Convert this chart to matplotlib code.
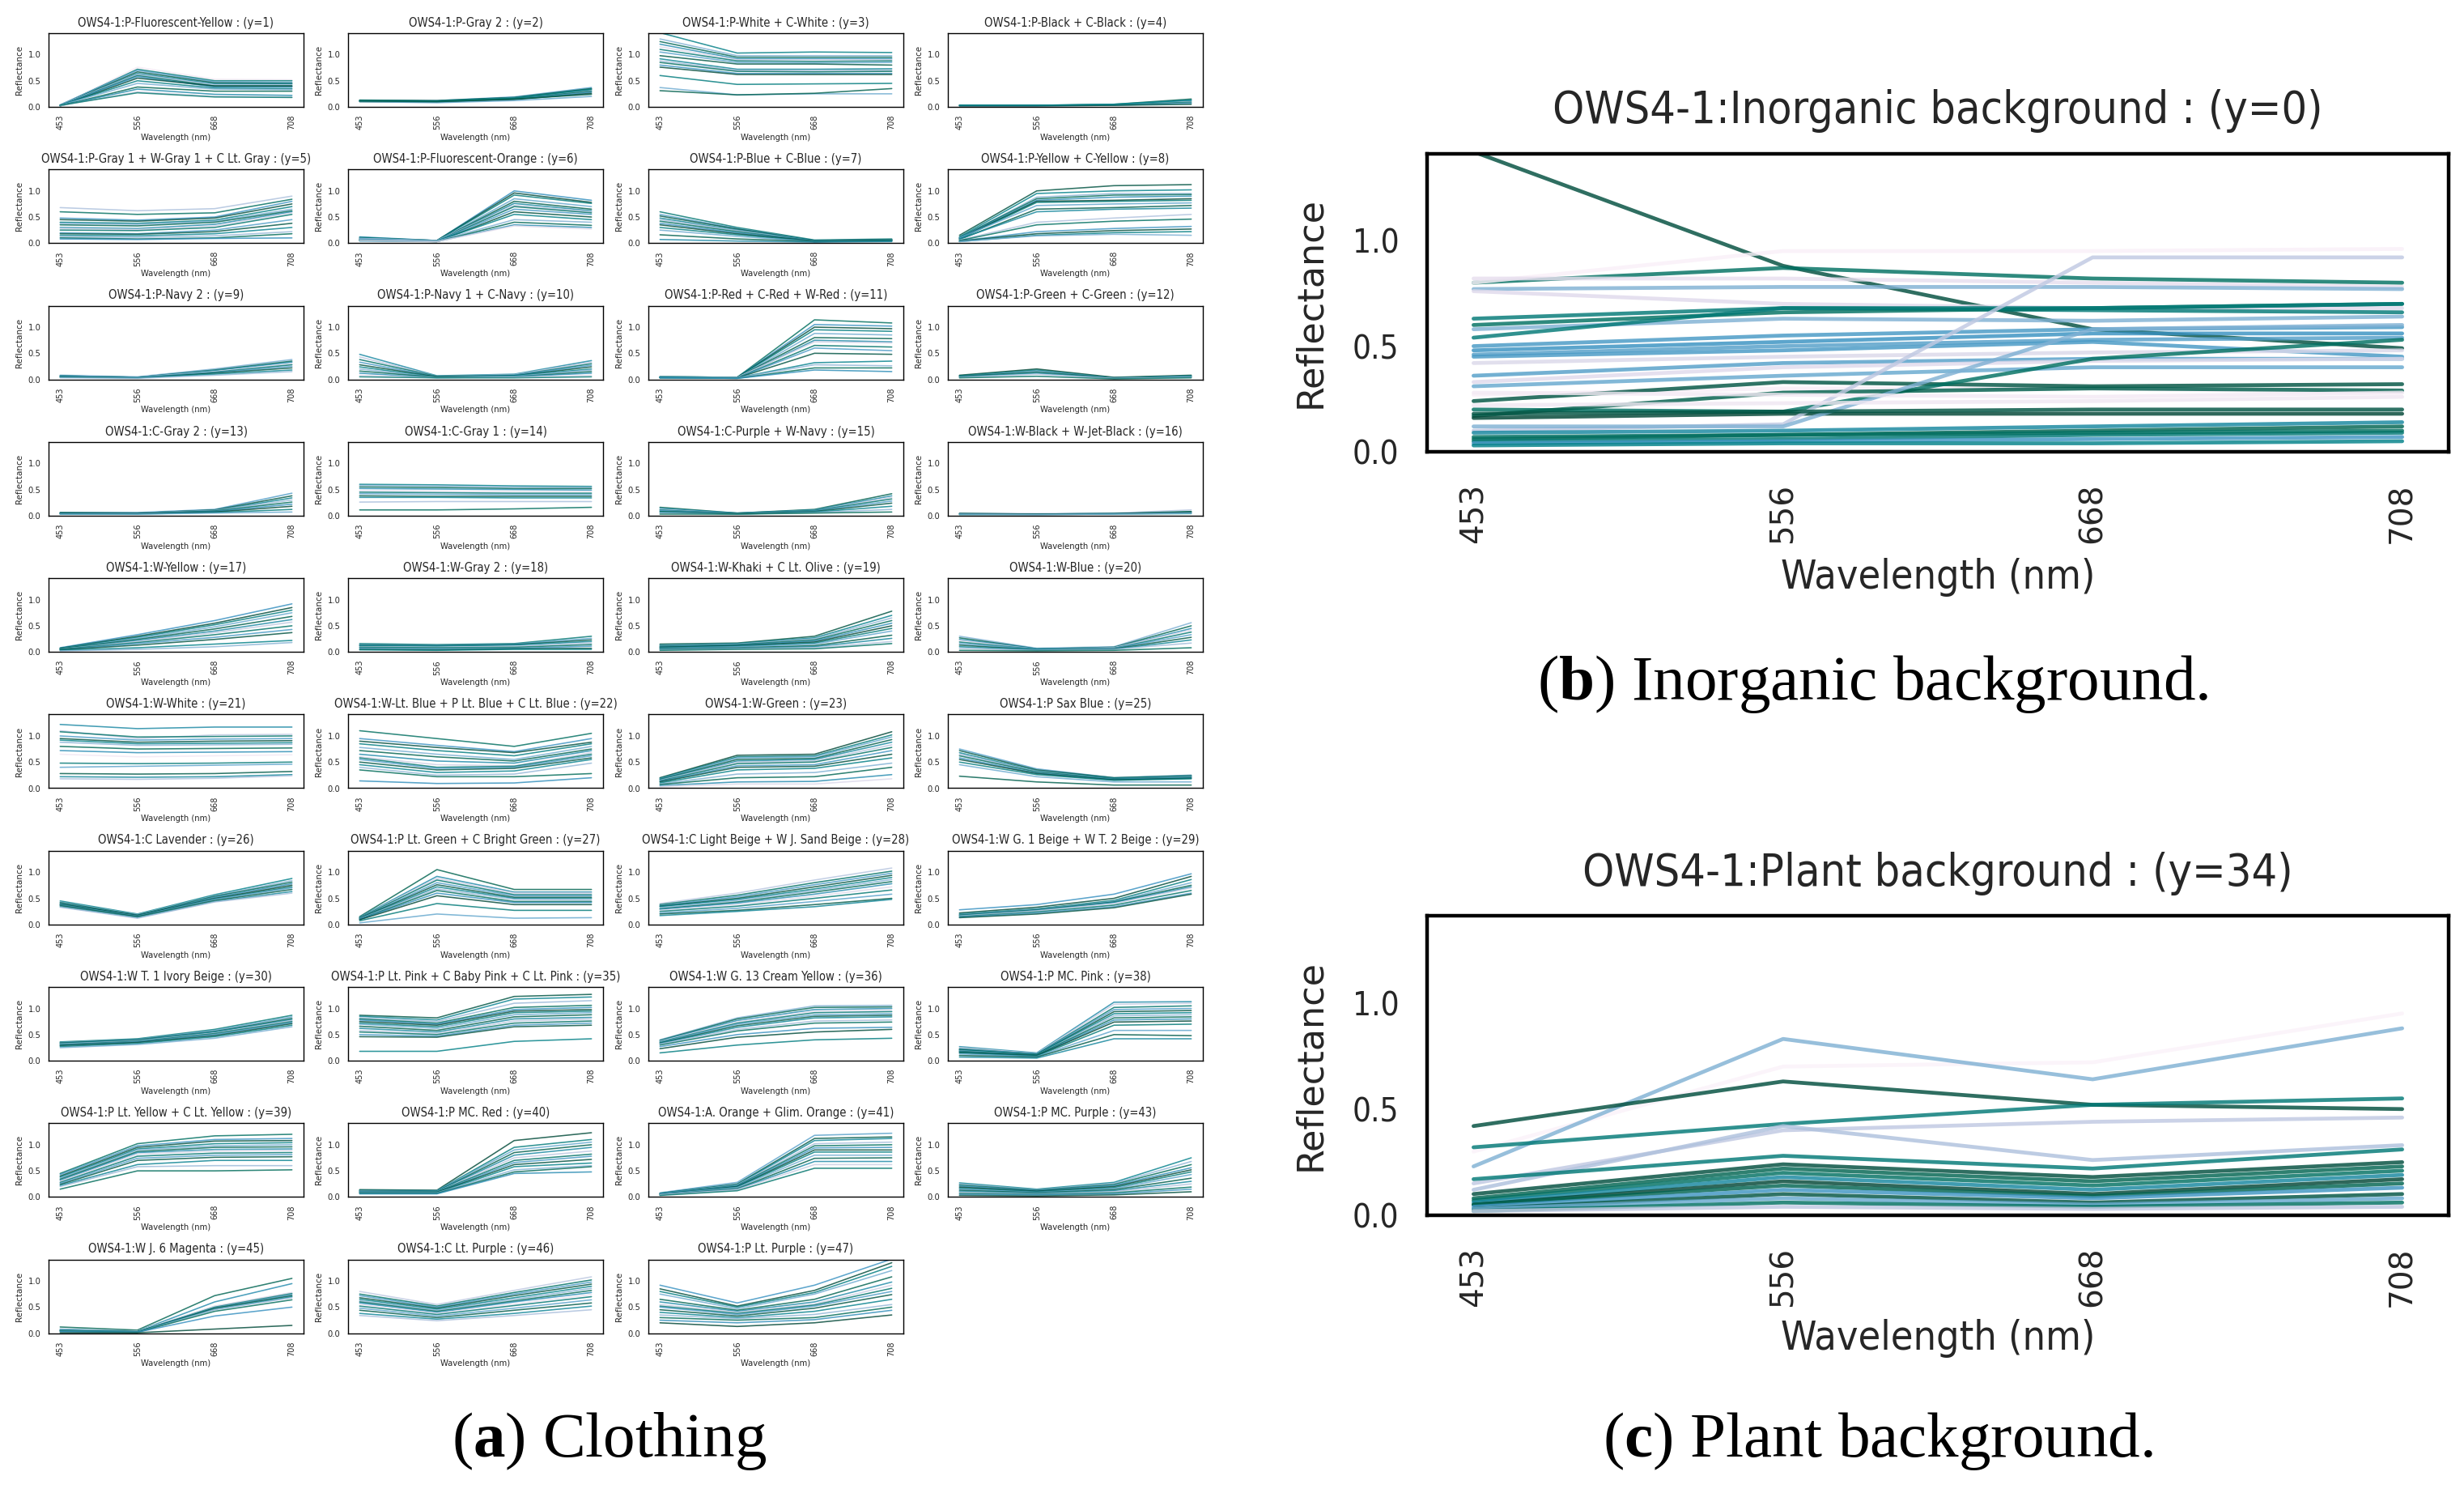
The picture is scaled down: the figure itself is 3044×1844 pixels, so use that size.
import matplotlib
matplotlib.use("Agg")
import matplotlib.pyplot as plt
from matplotlib import font_manager as fm
from matplotlib.font_manager import FontProperties
import numpy as np

# ---------------- data ----------------
wavelengths = ["453", "556", "668", "708"]

s01 = [[0.03,0.76,0.53,0.52],[0.03,0.72,0.50,0.50],[0.04,0.70,0.48,0.47],[0.03,0.67,0.46,0.45],[0.03,0.64,0.44,0.44],[0.04,0.62,0.42,0.42],[0.03,0.60,0.40,0.40],[0.03,0.58,0.38,0.38],[0.02,0.55,0.40,0.40],[0.03,0.50,0.36,0.35],[0.03,0.45,0.34,0.33],[0.02,0.38,0.30,0.30],[0.02,0.34,0.24,0.22],[0.02,0.29,0.20,0.19],[0.03,0.27,0.19,0.18]]
s02 = [[0.12,0.12,0.19,0.37],[0.13,0.12,0.18,0.35],[0.12,0.11,0.17,0.33],[0.11,0.10,0.17,0.31],[0.12,0.11,0.16,0.30],[0.11,0.10,0.15,0.28],[0.10,0.09,0.14,0.26],[0.12,0.11,0.17,0.34],[0.10,0.08,0.12,0.20],[0.11,0.10,0.15,0.24]]
s03 = [[1.42,1.03,1.05,1.04],[1.30,0.98,0.98,0.98],[1.25,0.95,0.95,0.95],[1.20,0.92,0.92,0.92],[1.15,0.90,0.90,0.90],[1.10,0.88,0.87,0.88],[1.05,0.85,0.84,0.85],[0.98,0.82,0.82,0.80],[0.92,0.72,0.72,0.73],[0.88,0.70,0.70,0.70],[0.85,0.68,0.67,0.68],[0.80,0.64,0.64,0.64],[0.76,0.62,0.62,0.62],[0.60,0.43,0.44,0.45],[0.37,0.23,0.25,0.25],[0.31,0.23,0.26,0.35]]
s04 = [[0.03,0.03,0.05,0.15],[0.03,0.03,0.04,0.12],[0.02,0.02,0.04,0.10],[0.03,0.03,0.04,0.09],[0.02,0.02,0.03,0.07],[0.02,0.02,0.03,0.05],[0.03,0.03,0.05,0.13]]
s05 = [[0.68,0.62,0.66,0.90],[0.60,0.55,0.58,0.84],[0.48,0.44,0.50,0.80],[0.45,0.42,0.48,0.75],[0.40,0.38,0.44,0.70],[0.38,0.36,0.42,0.65],[0.35,0.33,0.40,0.62],[0.30,0.28,0.36,0.60],[0.28,0.26,0.33,0.58],[0.25,0.24,0.30,0.55],[0.20,0.18,0.25,0.45],[0.18,0.17,0.22,0.38],[0.15,0.14,0.18,0.30],[0.12,0.11,0.14,0.22],[0.10,0.08,0.10,0.18],[0.08,0.07,0.09,0.10]]
s06 = [[0.12,0.05,1.00,0.82],[0.10,0.05,0.96,0.78],[0.11,0.05,0.92,0.76],[0.09,0.04,0.85,0.70],[0.08,0.04,0.80,0.65],[0.07,0.04,0.76,0.62],[0.09,0.05,0.72,0.60],[0.06,0.04,0.70,0.58],[0.08,0.04,0.65,0.55],[0.06,0.03,0.60,0.50],[0.05,0.04,0.55,0.45],[0.07,0.04,0.45,0.40],[0.05,0.03,0.40,0.34],[0.04,0.03,0.35,0.30],[0.05,0.03,0.33,0.27]]
s07 = [[0.60,0.30,0.06,0.08],[0.55,0.28,0.05,0.07],[0.52,0.27,0.05,0.07],[0.48,0.25,0.05,0.06],[0.45,0.24,0.04,0.06],[0.42,0.22,0.04,0.06],[0.38,0.20,0.04,0.05],[0.35,0.18,0.04,0.05],[0.30,0.16,0.03,0.05],[0.25,0.13,0.03,0.04],[0.16,0.08,0.03,0.04],[0.07,0.04,0.02,0.03]]
s08 = [[0.15,1.00,1.10,1.12],[0.12,0.95,1.00,1.02],[0.10,0.88,0.95,0.95],[0.11,0.85,0.92,0.93],[0.10,0.82,0.88,0.90],[0.09,0.80,0.82,0.85],[0.08,0.78,0.80,0.82],[0.10,0.72,0.75,0.77],[0.07,0.65,0.68,0.72],[0.08,0.60,0.65,0.67],[0.06,0.40,0.48,0.55],[0.05,0.35,0.42,0.46],[0.04,0.22,0.28,0.32],[0.04,0.18,0.24,0.27],[0.03,0.15,0.20,0.22],[0.03,0.14,0.17,0.15]]
s09 = [[0.08,0.05,0.20,0.38],[0.07,0.04,0.18,0.35],[0.07,0.04,0.17,0.33],[0.06,0.04,0.15,0.30],[0.05,0.03,0.14,0.28],[0.06,0.04,0.13,0.25],[0.05,0.03,0.12,0.22],[0.04,0.03,0.10,0.18],[0.03,0.02,0.08,0.15]]
s10 = [[0.48,0.07,0.10,0.36],[0.43,0.06,0.09,0.33],[0.38,0.06,0.08,0.30],[0.33,0.05,0.08,0.27],[0.28,0.05,0.07,0.24],[0.24,0.04,0.07,0.20],[0.20,0.04,0.06,0.18],[0.16,0.04,0.05,0.15],[0.12,0.03,0.05,0.12],[0.08,0.03,0.04,0.08],[0.05,0.03,0.03,0.05]]
s11 = [[0.05,0.04,1.14,1.08],[0.05,0.04,1.05,1.02],[0.04,0.04,1.00,0.97],[0.05,0.04,0.95,0.92],[0.04,0.03,0.88,0.85],[0.05,0.04,0.80,0.78],[0.04,0.03,0.75,0.72],[0.05,0.04,0.72,0.70],[0.04,0.03,0.65,0.62],[0.04,0.03,0.60,0.55],[0.03,0.03,0.50,0.48],[0.04,0.03,0.32,0.35],[0.03,0.03,0.28,0.26],[0.03,0.02,0.22,0.22],[0.03,0.02,0.18,0.15]]
s12 = [[0.08,0.20,0.04,0.08],[0.07,0.18,0.03,0.07],[0.06,0.16,0.03,0.06],[0.06,0.14,0.03,0.05],[0.05,0.12,0.02,0.05],[0.04,0.10,0.02,0.04],[0.03,0.06,0.01,0.03]]
s13 = [[0.06,0.06,0.12,0.43],[0.06,0.05,0.11,0.38],[0.05,0.05,0.10,0.34],[0.05,0.05,0.10,0.30],[0.05,0.04,0.09,0.26],[0.04,0.04,0.08,0.22],[0.04,0.04,0.07,0.18],[0.03,0.03,0.06,0.12],[0.03,0.03,0.05,0.07]]
s14 = [[0.60,0.59,0.57,0.56],[0.58,0.57,0.55,0.54],[0.55,0.54,0.52,0.52],[0.52,0.51,0.50,0.49],[0.48,0.47,0.46,0.46],[0.45,0.44,0.43,0.43],[0.42,0.41,0.40,0.40],[0.38,0.37,0.37,0.37],[0.35,0.35,0.34,0.34],[0.26,0.27,0.27,0.27],[0.11,0.11,0.13,0.16]]
s15 = [[0.16,0.05,0.12,0.42],[0.14,0.05,0.11,0.38],[0.12,0.04,0.10,0.35],[0.11,0.04,0.10,0.32],[0.10,0.04,0.09,0.28],[0.08,0.04,0.08,0.24],[0.07,0.03,0.07,0.18],[0.05,0.03,0.06,0.12],[0.03,0.03,0.05,0.07]]
s16 = [[0.05,0.04,0.05,0.11],[0.04,0.03,0.04,0.08],[0.03,0.03,0.04,0.06],[0.04,0.03,0.04,0.07],[0.02,0.02,0.03,0.04],[0.03,0.02,0.03,0.05]]
s17 = [[0.08,0.33,0.60,0.92],[0.07,0.30,0.55,0.85],[0.07,0.28,0.52,0.80],[0.06,0.26,0.48,0.75],[0.06,0.24,0.44,0.68],[0.05,0.22,0.40,0.62],[0.05,0.20,0.37,0.57],[0.05,0.18,0.33,0.50],[0.04,0.16,0.28,0.43],[0.04,0.13,0.24,0.37],[0.03,0.08,0.15,0.22],[0.02,0.05,0.10,0.18]]
s18 = [[0.16,0.14,0.16,0.30],[0.14,0.13,0.15,0.26],[0.13,0.12,0.14,0.23],[0.12,0.11,0.13,0.20],[0.10,0.09,0.11,0.17],[0.09,0.08,0.09,0.14],[0.07,0.06,0.07,0.11],[0.05,0.04,0.06,0.07],[0.04,0.03,0.05,0.05]]
s19 = [[0.15,0.17,0.30,0.78],[0.13,0.16,0.27,0.70],[0.12,0.15,0.25,0.65],[0.11,0.14,0.23,0.60],[0.10,0.13,0.21,0.55],[0.09,0.12,0.19,0.50],[0.08,0.11,0.17,0.45],[0.07,0.10,0.15,0.40],[0.06,0.08,0.12,0.32],[0.05,0.07,0.10,0.26],[0.04,0.06,0.08,0.20],[0.03,0.05,0.06,0.16]]
s20 = [[0.30,0.07,0.10,0.56],[0.27,0.06,0.09,0.50],[0.24,0.06,0.08,0.45],[0.22,0.05,0.08,0.42],[0.19,0.05,0.07,0.38],[0.16,0.05,0.07,0.33],[0.13,0.04,0.06,0.28],[0.10,0.04,0.05,0.23],[0.07,0.03,0.05,0.17],[0.03,0.02,0.03,0.08]]
s21 = [[1.22,1.14,1.17,1.17],[1.10,0.95,1.02,1.03],[1.08,0.98,0.99,1.00],[1.00,0.92,0.94,0.95],[0.95,0.88,0.90,0.91],[0.92,0.85,0.86,0.87],[0.88,0.82,0.83,0.84],[0.80,0.75,0.76,0.77],[0.72,0.68,0.69,0.70],[0.65,0.60,0.62,0.64],[0.48,0.47,0.48,0.50],[0.40,0.42,0.44,0.46],[0.28,0.27,0.28,0.32],[0.22,0.21,0.22,0.26],[0.18,0.17,0.19,0.24]]
s22 = [[1.10,0.95,0.80,1.05],[0.95,0.82,0.70,0.95],[0.90,0.78,0.68,0.88],[0.85,0.72,0.62,0.85],[0.78,0.65,0.55,0.80],[0.72,0.60,0.52,0.75],[0.65,0.52,0.48,0.72],[0.60,0.45,0.43,0.68],[0.58,0.40,0.42,0.65],[0.55,0.38,0.40,0.62],[0.50,0.35,0.38,0.58],[0.45,0.30,0.33,0.55],[0.40,0.25,0.27,0.48],[0.35,0.22,0.22,0.28],[0.14,0.09,0.10,0.20]]
s23 = [[0.20,0.63,0.65,1.08],[0.19,0.60,0.62,1.02],[0.18,0.58,0.60,0.98],[0.17,0.55,0.57,0.93],[0.16,0.52,0.55,0.88],[0.15,0.50,0.52,0.83],[0.14,0.47,0.50,0.78],[0.13,0.43,0.45,0.72],[0.12,0.40,0.42,0.65],[0.10,0.35,0.38,0.58],[0.08,0.27,0.30,0.48],[0.07,0.20,0.22,0.40],[0.05,0.12,0.13,0.26],[0.03,0.08,0.08,0.18]]
s25 = [[0.75,0.37,0.20,0.25],[0.72,0.35,0.20,0.24],[0.68,0.33,0.19,0.23],[0.65,0.32,0.18,0.22],[0.62,0.31,0.18,0.21],[0.58,0.29,0.17,0.20],[0.55,0.28,0.16,0.19],[0.50,0.26,0.15,0.18],[0.45,0.22,0.12,0.12],[0.23,0.12,0.06,0.06]]
s26 = [[0.45,0.20,0.57,0.88],[0.43,0.19,0.55,0.84],[0.42,0.18,0.54,0.81],[0.40,0.17,0.52,0.78],[0.39,0.17,0.50,0.75],[0.38,0.16,0.49,0.72],[0.37,0.16,0.48,0.70],[0.36,0.15,0.46,0.67],[0.34,0.13,0.44,0.63],[0.33,0.12,0.43,0.60]]
s27 = [[0.15,1.05,0.67,0.67],[0.14,0.92,0.62,0.62],[0.13,0.88,0.60,0.60],[0.13,0.85,0.57,0.57],[0.12,0.80,0.55,0.55],[0.12,0.76,0.52,0.52],[0.11,0.72,0.50,0.50],[0.11,0.68,0.48,0.47],[0.10,0.65,0.44,0.44],[0.10,0.60,0.42,0.42],[0.09,0.55,0.38,0.38],[0.07,0.40,0.27,0.27],[0.03,0.20,0.12,0.13]]
s28 = [[0.40,0.60,0.85,1.08],[0.38,0.56,0.80,1.02],[0.36,0.53,0.76,0.98],[0.35,0.50,0.72,0.94],[0.34,0.48,0.68,0.90],[0.32,0.46,0.65,0.86],[0.30,0.43,0.62,0.82],[0.29,0.41,0.58,0.78],[0.27,0.38,0.54,0.72],[0.25,0.35,0.50,0.66],[0.22,0.31,0.44,0.58],[0.20,0.27,0.38,0.50],[0.17,0.25,0.34,0.48]]
s29 = [[0.28,0.38,0.58,0.97],[0.22,0.33,0.50,0.92],[0.20,0.30,0.46,0.86],[0.19,0.29,0.44,0.80],[0.18,0.28,0.43,0.75],[0.17,0.27,0.42,0.72],[0.16,0.26,0.40,0.70],[0.15,0.24,0.37,0.65],[0.14,0.22,0.34,0.60],[0.13,0.20,0.32,0.58]]
s30 = [[0.36,0.42,0.60,0.87],[0.35,0.41,0.58,0.84],[0.34,0.40,0.56,0.81],[0.33,0.39,0.55,0.79],[0.32,0.38,0.53,0.77],[0.31,0.37,0.52,0.75],[0.30,0.36,0.50,0.73],[0.29,0.35,0.48,0.71],[0.27,0.33,0.46,0.68],[0.25,0.31,0.43,0.65]]
s35 = [[0.87,0.82,1.23,1.27],[0.85,0.78,1.18,1.22],[0.82,0.75,1.10,1.15],[0.80,0.72,1.02,1.06],[0.78,0.70,0.98,1.02],[0.75,0.68,0.95,0.98],[0.72,0.65,0.92,0.95],[0.70,0.62,0.88,0.92],[0.66,0.58,0.84,0.88],[0.62,0.55,0.80,0.83],[0.58,0.52,0.76,0.80],[0.55,0.50,0.72,0.76],[0.50,0.47,0.68,0.72],[0.46,0.45,0.65,0.68],[0.18,0.18,0.37,0.42]]
s36 = [[0.40,0.82,1.05,1.06],[0.39,0.80,1.02,1.03],[0.38,0.77,0.98,1.00],[0.37,0.74,0.95,0.97],[0.36,0.72,0.92,0.94],[0.35,0.70,0.88,0.90],[0.34,0.67,0.85,0.87],[0.33,0.64,0.82,0.84],[0.32,0.60,0.76,0.78],[0.30,0.57,0.72,0.74],[0.27,0.50,0.62,0.64],[0.23,0.45,0.55,0.60],[0.15,0.30,0.40,0.43]]
s38 = [[0.27,0.15,1.12,1.13],[0.25,0.14,1.08,1.10],[0.23,0.13,1.02,1.05],[0.22,0.13,0.98,1.00],[0.21,0.12,0.94,0.96],[0.20,0.12,0.90,0.92],[0.19,0.11,0.86,0.88],[0.18,0.11,0.82,0.84],[0.17,0.10,0.78,0.80],[0.16,0.10,0.74,0.76],[0.15,0.09,0.68,0.70],[0.13,0.08,0.58,0.58],[0.10,0.07,0.50,0.48],[0.07,0.05,0.42,0.42]]
s39 = [[0.45,1.02,1.17,1.20],[0.43,0.98,1.10,1.12],[0.40,0.95,1.07,1.08],[0.38,0.92,1.02,1.04],[0.36,0.90,0.98,1.00],[0.34,0.87,0.95,0.96],[0.32,0.85,0.91,0.92],[0.30,0.82,0.88,0.89],[0.28,0.78,0.84,0.85],[0.26,0.74,0.80,0.81],[0.24,0.70,0.76,0.77],[0.22,0.62,0.70,0.70],[0.20,0.58,0.60,0.60],[0.15,0.50,0.50,0.52]]
s40 = [[0.14,0.13,1.08,1.23],[0.13,0.12,0.95,1.10],[0.12,0.12,0.90,1.05],[0.12,0.11,0.85,1.00],[0.11,0.11,0.80,0.95],[0.11,0.10,0.75,0.88],[0.10,0.10,0.70,0.82],[0.10,0.09,0.66,0.78],[0.09,0.09,0.62,0.72],[0.08,0.08,0.58,0.65],[0.08,0.08,0.52,0.60],[0.07,0.07,0.48,0.58],[0.06,0.06,0.45,0.48]]
s41 = [[0.08,0.28,1.18,1.22],[0.07,0.25,1.12,1.15],[0.07,0.24,1.08,1.12],[0.06,0.23,1.02,1.05],[0.06,0.22,0.98,1.00],[0.06,0.21,0.94,0.95],[0.05,0.20,0.90,0.90],[0.05,0.19,0.86,0.86],[0.05,0.18,0.80,0.80],[0.04,0.16,0.74,0.75],[0.04,0.15,0.68,0.68],[0.04,0.14,0.62,0.62],[0.03,0.12,0.55,0.55]]
s43 = [[0.27,0.15,0.28,0.75],[0.25,0.14,0.26,0.68],[0.23,0.13,0.24,0.62],[0.21,0.12,0.22,0.56],[0.19,0.11,0.20,0.52],[0.17,0.10,0.18,0.48],[0.15,0.09,0.16,0.43],[0.13,0.08,0.14,0.36],[0.11,0.07,0.12,0.30],[0.09,0.06,0.10,0.25],[0.07,0.05,0.08,0.19],[0.05,0.04,0.06,0.15],[0.03,0.02,0.04,0.10]]
s45 = [[0.12,0.06,0.72,1.05],[0.08,0.04,0.60,0.95],[0.07,0.04,0.52,0.78],[0.06,0.03,0.50,0.76],[0.06,0.03,0.49,0.74],[0.05,0.03,0.48,0.72],[0.05,0.03,0.46,0.70],[0.04,0.02,0.45,0.68],[0.04,0.02,0.42,0.64],[0.03,0.02,0.33,0.50],[0.01,0.01,0.08,0.15]]
s46 = [[0.80,0.55,0.82,1.08],[0.75,0.52,0.78,1.02],[0.72,0.50,0.75,0.98],[0.68,0.48,0.72,0.94],[0.65,0.46,0.68,0.90],[0.62,0.44,0.65,0.86],[0.60,0.42,0.62,0.82],[0.58,0.40,0.60,0.78],[0.55,0.38,0.56,0.74],[0.52,0.36,0.53,0.70],[0.48,0.33,0.48,0.64],[0.44,0.30,0.44,0.58],[0.38,0.27,0.38,0.52],[0.34,0.24,0.34,0.45]]
s47 = [[0.92,0.58,0.92,1.42],[0.85,0.52,0.82,1.35],[0.80,0.50,0.78,1.28],[0.75,0.47,0.75,1.20],[0.65,0.44,0.65,1.08],[0.60,0.42,0.60,0.98],[0.55,0.40,0.56,0.92],[0.52,0.38,0.54,0.86],[0.50,0.36,0.52,0.80],[0.45,0.33,0.48,0.74],[0.40,0.30,0.42,0.65],[0.35,0.28,0.36,0.55],[0.30,0.25,0.30,0.50],[0.25,0.20,0.26,0.44],[0.20,0.13,0.20,0.35]]

clothing_titles = [
    "OWS4-1:P-Fluorescent-Yellow : (y=1)", "OWS4-1:P-Gray 2 : (y=2)",
    "OWS4-1:P-White + C-White : (y=3)", "OWS4-1:P-Black + C-Black : (y=4)",
    "OWS4-1:P-Gray 1 + W-Gray 1 + C Lt. Gray : (y=5)", "OWS4-1:P-Fluorescent-Orange : (y=6)",
    "OWS4-1:P-Blue + C-Blue : (y=7)", "OWS4-1:P-Yellow + C-Yellow : (y=8)",
    "OWS4-1:P-Navy 2 : (y=9)", "OWS4-1:P-Navy 1 + C-Navy : (y=10)",
    "OWS4-1:P-Red + C-Red + W-Red : (y=11)", "OWS4-1:P-Green + C-Green : (y=12)",
    "OWS4-1:C-Gray 2 : (y=13)", "OWS4-1:C-Gray 1 : (y=14)",
    "OWS4-1:C-Purple + W-Navy : (y=15)", "OWS4-1:W-Black + W-Jet-Black : (y=16)",
    "OWS4-1:W-Yellow : (y=17)", "OWS4-1:W-Gray 2 : (y=18)",
    "OWS4-1:W-Khaki + C Lt. Olive : (y=19)", "OWS4-1:W-Blue : (y=20)",
    "OWS4-1:W-White : (y=21)", "OWS4-1:W-Lt. Blue + P Lt. Blue + C Lt. Blue : (y=22)",
    "OWS4-1:W-Green : (y=23)", "OWS4-1:P Sax Blue : (y=25)",
    "OWS4-1:C Lavender : (y=26)", "OWS4-1:P Lt. Green + C Bright Green : (y=27)",
    "OWS4-1:C Light Beige + W J. Sand Beige : (y=28)", "OWS4-1:W G. 1 Beige + W T. 2 Beige : (y=29)",
    "OWS4-1:W T. 1 Ivory Beige : (y=30)", "OWS4-1:P Lt. Pink + C Baby Pink + C Lt. Pink : (y=35)",
    "OWS4-1:W G. 13 Cream Yellow : (y=36)", "OWS4-1:P MC. Pink : (y=38)",
    "OWS4-1:P Lt. Yellow + C Lt. Yellow : (y=39)", "OWS4-1:P MC. Red : (y=40)",
    "OWS4-1:A. Orange + Glim. Orange : (y=41)", "OWS4-1:P MC. Purple : (y=43)",
    "OWS4-1:W J. 6 Magenta : (y=45)", "OWS4-1:C Lt. Purple : (y=46)",
    "OWS4-1:P Lt. Purple : (y=47)",
]
clothing_spectra = [s01, s02, s03, s04, s05, s06, s07, s08, s09, s10, s11, s12,
                    s13, s14, s15, s16, s17, s18, s19, s20, s21, s22, s23, s25,
                    s26, s27, s28, s29, s30, s35, s36, s38, s39, s40, s41, s43,
                    s45, s46, s47]

inorganic_title = "OWS4-1:Inorganic background : (y=0)"
inorganic = [[1.42,0.88,0.58,0.49],[0.80,0.87,0.82,0.80],[0.80,0.95,0.95,0.96],[0.82,0.82,0.80,0.78],
             [0.77,0.78,0.78,0.77],[0.76,0.70,0.68,0.68],[0.63,0.68,0.67,0.66],[0.60,0.66,0.68,0.70],
             [0.58,0.63,0.62,0.64],[0.54,0.68,0.68,0.70],[0.50,0.55,0.58,0.59],[0.48,0.52,0.56,0.56],
             [0.46,0.50,0.53,0.54],[0.45,0.48,0.52,0.45],[0.42,0.45,0.47,0.48],[0.36,0.42,0.44,0.44],
             [0.33,0.40,0.43,0.44],[0.31,0.36,0.40,0.40],[0.27,0.30,0.30,0.28],[0.24,0.33,0.31,0.32],
             [0.20,0.19,0.44,0.53],[0.17,0.28,0.30,0.29],[0.16,0.18,0.18,0.18],[0.10,0.13,0.92,0.92],
             [0.12,0.12,0.58,0.60],[0.09,0.10,0.12,0.14],[0.06,0.08,0.10,0.12],[0.05,0.06,0.08,0.09],
             [0.04,0.05,0.06,0.07],[0.03,0.04,0.04,0.05],[0.22,0.23,0.24,0.26],[0.07,0.08,0.09,0.10],
             [0.28,0.27,0.26,0.28],[0.18,0.19,0.20,0.20]]

plant_title = "OWS4-1:Plant background : (y=34)"
plant = [[0.30,0.70,0.72,0.95],[0.23,0.83,0.64,0.88],[0.42,0.63,0.52,0.50],[0.32,0.43,0.52,0.55],
         [0.15,0.40,0.44,0.46],[0.12,0.42,0.26,0.33],[0.17,0.28,0.22,0.31],[0.10,0.24,0.18,0.25],
         [0.08,0.22,0.16,0.23],[0.07,0.20,0.14,0.21],[0.06,0.18,0.12,0.19],[0.05,0.16,0.10,0.17],
         [0.05,0.14,0.09,0.15],[0.04,0.12,0.08,0.13],[0.03,0.10,0.06,0.10],[0.03,0.08,0.05,0.08],
         [0.02,0.06,0.04,0.06],[0.02,0.04,0.03,0.04]]

captions = ["Clothing", "Inorganic background.", "Plant background."]
caption_letters = ["a", "b", "c"]

# ---------------- style (colour levels on the PuBuGn map, kept apart from data) ----------------
inorganic_shades = [0.97, 0.85, 0.04, 0.15, 0.45, 0.18, 0.80, 0.85, 0.45, 0.80, 0.58, 0.62,
                    0.55, 0.58, 0.20, 0.55, 0.18, 0.50, 0.05, 0.95, 0.85, 0.92, 1.00, 0.30,
                    0.45, 0.70, 0.90, 0.80, 0.60, 0.75, 0.10, 0.85, 0.08, 0.95]
plant_shades = [0.03, 0.45, 0.97, 0.80, 0.30, 0.35, 0.80, 0.97, 0.90, 0.85, 0.70, 1.00,
                0.90, 0.60, 0.95, 0.50, 0.85, 0.30]

W, H = 3044, 1844
fig = plt.figure(figsize=(W / 100, H / 100), dpi=100)
fig.patch.set_facecolor("white")

cond_fp = FontProperties(family="DejaVu Sans", stretch="condensed")
if "ondensed" in fm.findfont(cond_fp, fallback_to_default=True):
    COND = dict(family="DejaVu Sans", fontstretch="condensed")
    cond_scale = 1.0
else:
    COND = dict(family="DejaVu Sans")
    cond_scale = 0.9
NORM = dict(family="DejaVu Sans")
TXT = "#262626"

plt.rcParams["mathtext.fontset"] = "custom"
plt.rcParams["mathtext.rm"] = "Liberation Serif"
plt.rcParams["mathtext.bf"] = "Liberation Serif:bold"

cmap = plt.get_cmap("PuBuGn")


def auto_shade(i, k):
    v = ((i * 0.61803 + k * 0.2719) % 1.0)
    return 0.08 + 0.92 * v ** 0.5


def box(x0, y0, w, h):
    return [x0 / W, 1 - (y0 + h) / H, w / W, h / H]


def style_axes(ax, title, data, k, big, shades=None):
    x = np.arange(len(wavelengths))
    lw = 3.4 if big else 1.15
    for i, row in enumerate(data):
        v = shades[i] if shades is not None else auto_shade(i, k)
        ax.plot(x, row, color=cmap(v), lw=lw, alpha=0.82, solid_capstyle="round")
    ax.set_ylim(0, 1.41)
    ax.set_xticks(x)
    ax.set_xticklabels(wavelengths, rotation=90, **NORM)
    ax.set_yticks([0.0, 0.5, 1.0])
    ax.set_yticklabels(["0.0", "0.5", "1.0"], **COND)
    ax.set_facecolor("white")
    for sp in ax.spines.values():
        sp.set_color("black")
        sp.set_linewidth(3.2 if big else 1.0)
    if big:
        ax.tick_params(axis="x", length=0, pad=28, labelsize=28, colors=TXT)
        ax.tick_params(axis="y", length=0, pad=25, labelsize=29 * cond_scale, colors=TXT)
        ax.set_title(title, fontsize=40 * cond_scale, pad=27, color=TXT, **COND)
        ax.set_xlabel("Wavelength (nm)", fontsize=36 * cond_scale, color=TXT, **COND)
        ax.set_ylabel("Reflectance", fontsize=32, color=TXT, **NORM)
        ax.yaxis.set_label_coords(-0.097, 0.5)
    else:
        ax.tick_params(axis="x", length=0, pad=7, labelsize=7, colors=TXT)
        ax.tick_params(axis="y", length=0, pad=7, labelsize=8 * cond_scale, colors=TXT)
        ax.set_title(title, fontsize=10.6 * cond_scale, pad=6, color=TXT, **COND)
        ax.set_xlabel("Wavelength (nm)", fontsize=8 * cond_scale, color=TXT, **COND)
        ax.set_ylabel("Reflectance", fontsize=7.5, color=TXT, **NORM)
        ax.yaxis.set_label_coords(-0.098, 0.5)
        ax.xaxis.set_label_coords(0.5, -0.36)


# ---------------- small clothing grid ----------------
col_x = [60, 430, 801, 1171]
for n, (title, data) in enumerate(zip(clothing_titles, clothing_spectra)):
    r, c = divmod(n, 4)
    ax = fig.add_axes(box(col_x[c], 41 + r * 168.3, 315, 91))
    style_axes(ax, title, data, n, big=False)

# ---------------- big plots ----------------
ax_b = fig.add_axes(box(1763, 190, 1262, 368))
style_axes(ax_b, inorganic_title, inorganic, 3, big=True, shades=inorganic_shades)
ax_b.xaxis.set_label_coords(0.5, -0.355)

ax_c = fig.add_axes(box(1763, 1131, 1262, 370))
style_axes(ax_c, plant_title, plant, 7, big=True, shades=plant_shades)
ax_c.xaxis.set_label_coords(0.5, -0.345)

# ---------------- captions ----------------
cap_pos = [(753, 1780), (2314, 845), (2320, 1780)]
for (cx, cy), letter, text in zip(cap_pos, caption_letters, captions):
    fig.text(cx / W, 1 - cy / H, r"($\mathbf{" + letter + r"}$) " + text,
             ha="center", va="center", fontsize=57, family="Liberation Serif", color="black")

fig.savefig("out.png", dpi=100, facecolor="white")
